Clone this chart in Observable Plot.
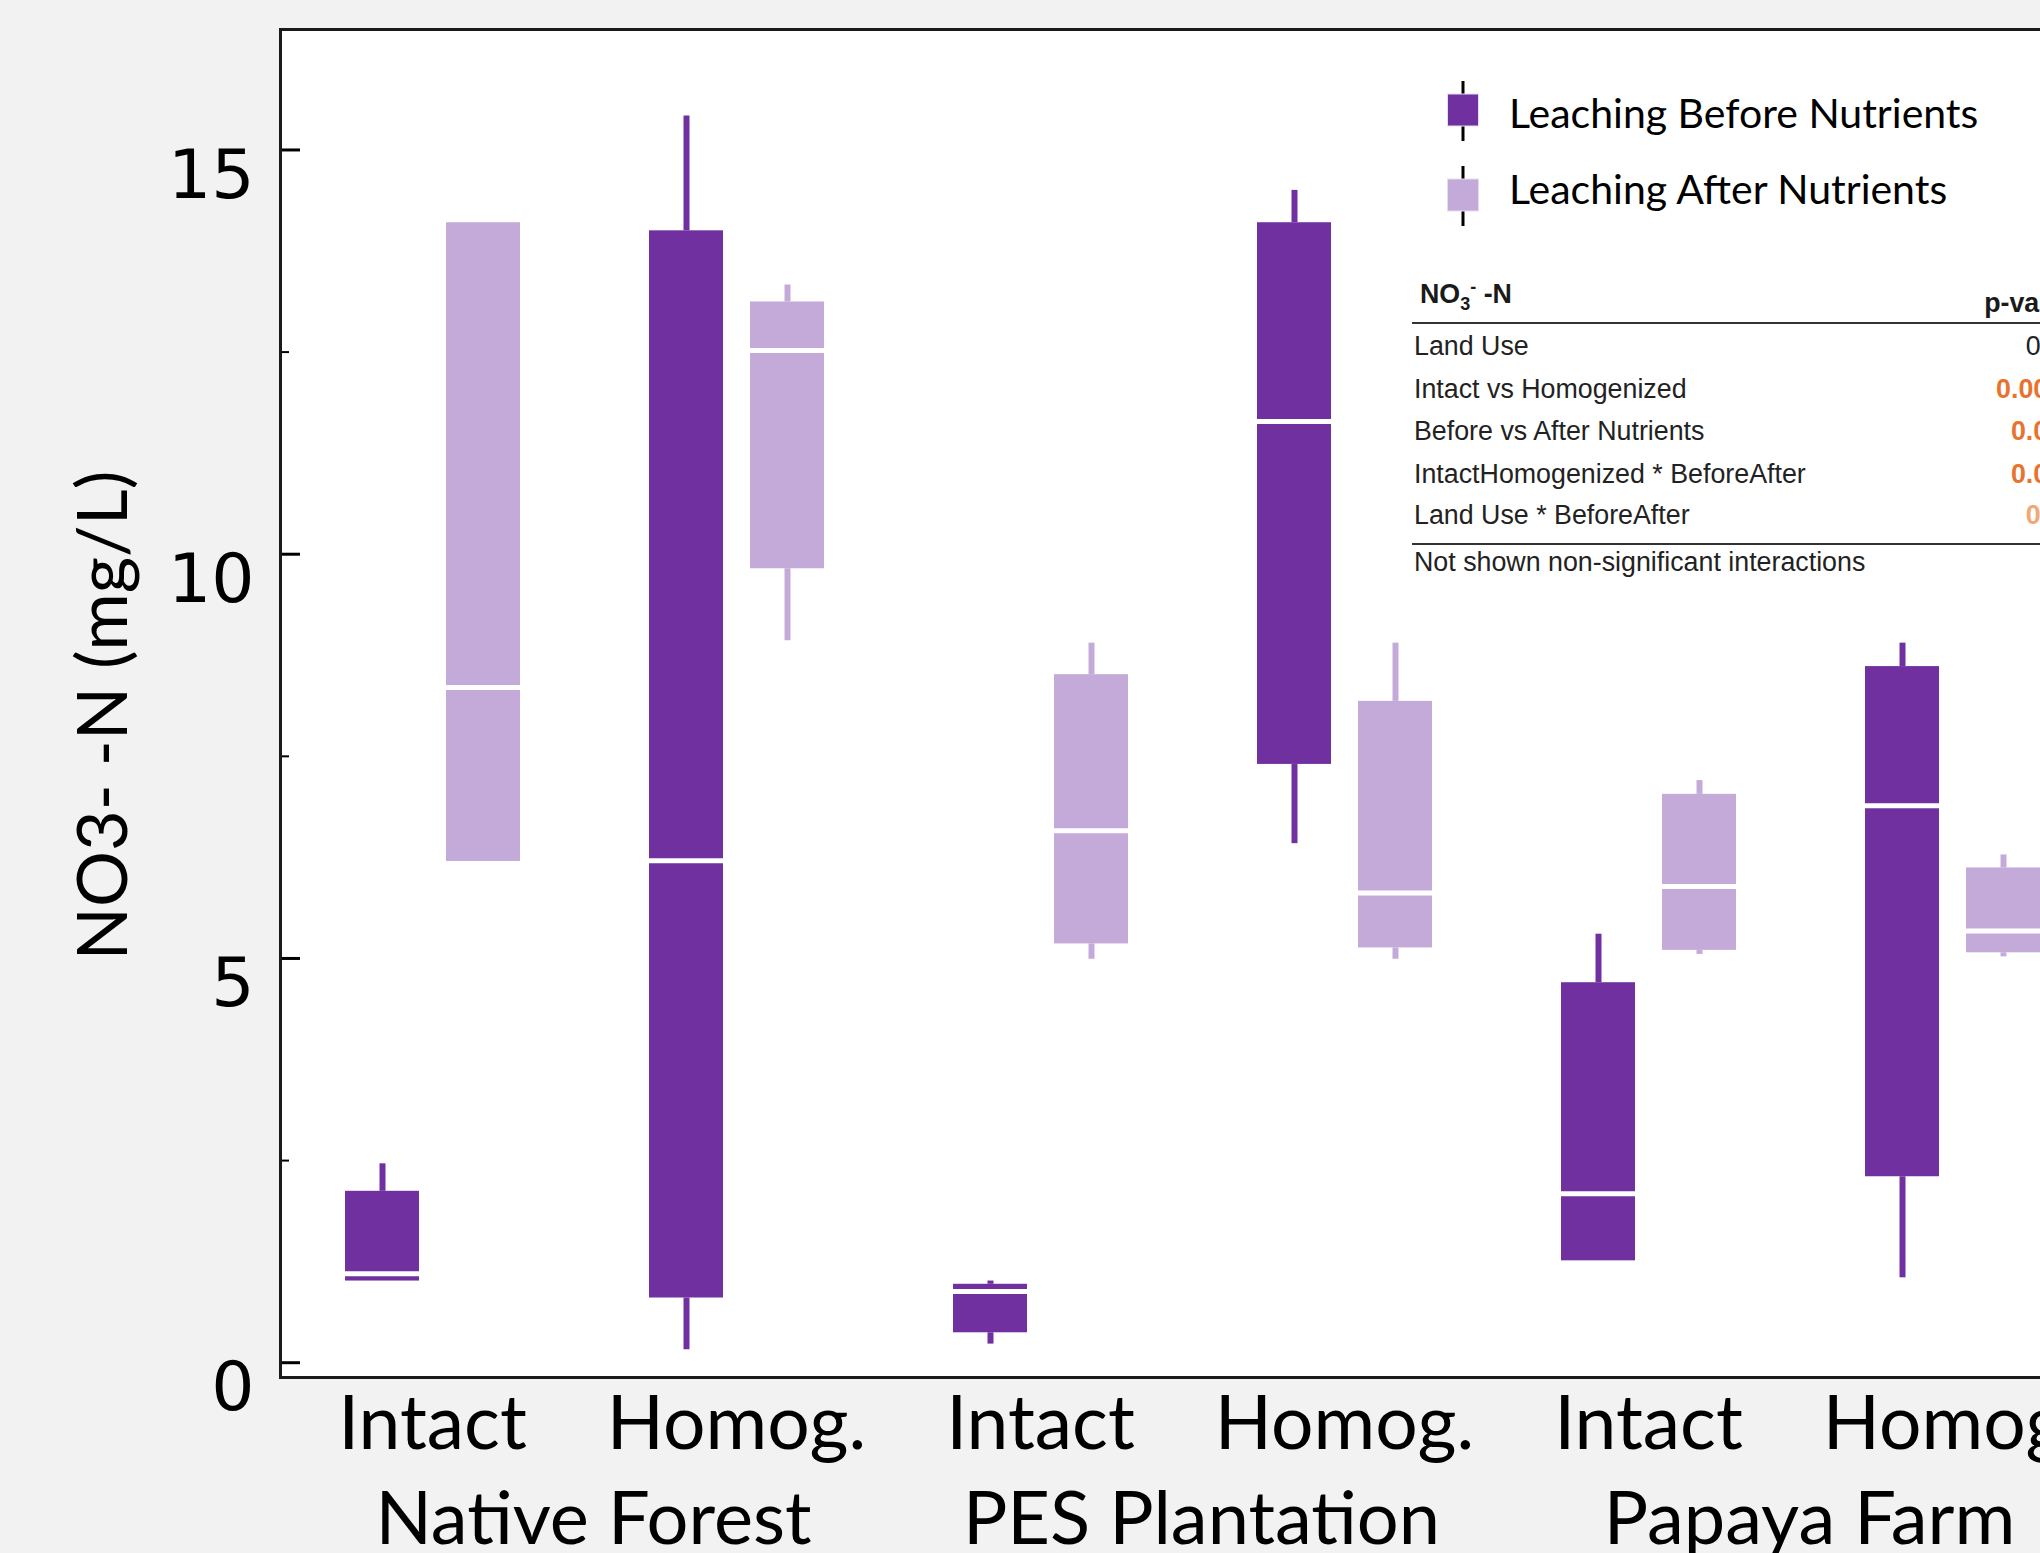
<!DOCTYPE html>
<html>
<head>
<meta charset="utf-8">
<script src="https://cdn.jsdelivr.net/npm/d3@7"></script>
<script src="https://cdn.jsdelivr.net/npm/@observablehq/plot@0.6"></script>
<style>
  html, body { margin: 0; padding: 0; overflow: hidden; background: #f2f2f2; width: 2040px; height: 1553px; }
  #wrap { position: relative; width: 2040px; height: 1553px; overflow: hidden; }
  #chart { position: absolute; left: 0; top: 0; width: 2140px; }
  #chart svg { max-width: none !important; }
  .leg-item { position: absolute; font-family: Lato, sans-serif; font-size: 41px; line-height: 50px; color: #000; white-space: nowrap; }
  .leg-icon { position: absolute; }
  #table { position: absolute; left: 1412px; top: 270px; width: 700px; height: 310px; background: #fff; font-family: "Liberation Sans", Arial, sans-serif; font-size: 26.8px; color: #222; }
  #table .ln { position: absolute; left: 2px; width: 660px; height: 30px; line-height: 30px; white-space: nowrap; }
  #table .val { position: absolute; left: 0; width: 662px; text-align: right; height: 30px; line-height: 30px; font-weight: bold; }
  #table .rule { position: absolute; left: 0; width: 700px; height: 2px; background: #333; }
</style>
</head>
<body>
<div id="wrap">
  <div id="chart"></div>
  <div id="legend"></div>
  <div id="table"></div>
</div>
<script>
// ---------- data ----------
const landUses = ["Native Forest", "PES Plantation", "Papaya Farm"];
const soilTypes = ["Intact", "Homog."];
const phases = ["Before", "After"];
const phaseLabels = ["Leaching Before Nutrients", "Leaching After Nutrients"];
const colors = ["#7030A0", "#C4AAD8"];

// order: NF Intact (B, A), NF Homog (B, A), PES Intact (B, A), PES Homog (B, A), Papaya Intact (B, A), Papaya Homog (B, A)
const whiskerLow  = [null, null, 0.16, 8.93, 0.23, 4.99, 6.42, 4.99, null, 5.05, 1.05, 5.02];
const q1          = [1.01, 6.20, 0.80, 9.82, 0.37, 5.18, 7.40, 5.13, 1.26, 5.10, 2.30, 5.07];
const median      = [1.10, 8.35, 6.21, 12.52, 0.88, 6.58, 11.64, 5.81, 2.09, 5.89, 6.89, 5.34];
const q3          = [2.12, 14.10, 14.00, 13.12, 0.97, 8.51, 14.10, 8.18, 4.70, 7.03, 8.61, 6.12];
const whiskerHigh = [2.46, null, 15.42, 13.33, 1.01, 8.90, 14.50, 8.90, 5.30, 7.20, 8.90, 6.28];

const yMajorTicks = [0, 5, 10, 15];
const yMinorTicks = [2.5, 7.5, 12.5];
const yLabel = "NO3- -N (mg/L)";

const tableTitle = ["NO", "3", "-", " -N"];
const tableHeader = "p-value";
const tableTerms = ["Land Use", "Intact vs Homogenized", "Before vs After Nutrients", "IntactHomogenized * BeforeAfter", "Land Use * BeforeAfter"];
const tablePValues = ["0.12", "0.0001", "0.001", "0.001", "0.03"];
const tablePColors = ["#222222", "#E8732F", "#E8732F", "#E8732F", "#F2A779"];
const tableNote = "Not shown non-significant interactions";

// ---------- build rows ----------
const rows = [];
let k = 0;
for (const lu of landUses) for (const st of soilTypes) for (const ph of phases) {
  rows.push({group: lu + "|" + st, landUse: lu, soil: st, phase: ph,
             lo: whiskerLow[k], q1: q1[k], med: median[k], q3: q3[k], hi: whiskerHigh[k]});
  k++;
}
const fxDomain = landUses.flatMap(lu => soilTypes.map(st => lu + "|" + st));
const groupRows = landUses.map(lu => ({key: lu + "|" + soilTypes[0], name: lu}));

const plot = Plot.plot({
  width: 2140,
  height: 1553,
  marginLeft: 280,
  marginRight: 36,
  marginTop: 29,
  marginBottom: 176,
  style: {background: "transparent", fontFamily: "Lato, sans-serif", color: "#000", overflow: "visible", maxWidth: "none"},
  fx: {domain: fxDomain, paddingInner: 0, paddingOuter: 0, label: null},
  x: {domain: phases, paddingInner: 0.271, paddingOuter: 0.631, axis: null},
  y: {domain: [-0.183, 16.49], label: null},
  color: {domain: phases, range: colors},
  marks: [
    Plot.frame({facet: "super", fill: "white", stroke: null}),
    Plot.ruleX(rows.filter(d => d.hi != null), {fx: "group", x: "phase", y1: "q3", y2: "hi", stroke: "phase", strokeWidth: 6}),
    Plot.ruleX(rows.filter(d => d.lo != null), {fx: "group", x: "phase", y1: "lo", y2: "q1", stroke: "phase", strokeWidth: 6}),
    Plot.barY(rows, {fx: "group", x: "phase", y1: "q1", y2: "q3", fill: "phase"}),
    Plot.tickY(rows, {fx: "group", x: "phase", y: "med", stroke: "white", strokeWidth: 5}),
    Plot.axisY({ticks: yMajorTicks, tickSize: -20, strokeWidth: 3, fill: "none", label: null}),
    Plot.axisY({ticks: yMinorTicks, tickSize: -9, strokeWidth: 2, fill: "none", label: null}),
    Plot.axisY({ticks: yMajorTicks, tickSize: 0, tickPadding: 26, dy: 26, fontSize: 68, fontFamily: "DejaVu Sans", label: null}),
    Plot.axisFx({anchor: "bottom", tickFormat: d => d.split("|")[1], tickSize: 0, tickPadding: 18, fontSize: 75, label: null}),
    Plot.text(groupRows, {fx: "key", text: "name", frameAnchor: "bottom-right", textAnchor: "middle", lineAnchor: "middle", dx: 9, dy: 143, fontSize: 74}),
    Plot.text([yLabel], {facet: "super", frameAnchor: "left", rotate: -90, dx: -176, dy: 12, fontSize: 70, textAnchor: "middle", lineAnchor: "middle"}),
    Plot.frame({facet: "super", stroke: "#1a1a1a", strokeWidth: 3})
  ]
});
plot.style.maxWidth = "none";
document.getElementById("chart").appendChild(plot);

// ---------- legend ----------
const legend = document.getElementById("legend");
phaseLabels.forEach((lab, i) => {
  const top = 81 + i * 85;
  const icon = document.createElementNS("http://www.w3.org/2000/svg", "svg");
  icon.setAttribute("class", "leg-icon");
  icon.setAttribute("width", 34);
  icon.setAttribute("height", 60);
  icon.style.left = "1446px";
  icon.style.top = top + "px";
  icon.innerHTML = `<line x1="17" x2="17" y1="0" y2="60" stroke="#000" stroke-width="3"/>
    <rect x="1.5" y="13" width="31" height="32" fill="${colors[i]}" stroke="#e6dcef" stroke-width="1"/>`;
  legend.appendChild(icon);
  const t = document.createElement("div");
  t.className = "leg-item";
  t.style.left = "1509px";
  t.style.top = (88 + i * 76) + "px";
  t.textContent = lab;
  legend.appendChild(t);
});

// ---------- table ----------
const tbl = document.getElementById("table");
const origin = 270;
function addLine(html, center, cls, extraStyle) {
  const d = document.createElement("div");
  d.className = cls;
  d.style.top = (center - origin - 15) + "px";
  if (extraStyle) Object.assign(d.style, extraStyle);
  d.innerHTML = html;
  tbl.appendChild(d);
  return d;
}
addLine(`<b>${tableTitle[0]}<span style="font-size:18px;position:relative;top:7px">${tableTitle[1]}</span><span style="font-size:18px;position:relative;top:-10px">${tableTitle[2]}</span>${tableTitle[3]}</b>`, 294, "ln", {left: "8px", color: "#1a1a1a"});
addLine(tableHeader, 303, "val", {color: "#1a1a1a", width: "666px"});
const r1 = document.createElement("div"); r1.className = "rule"; r1.style.top = (322 - origin) + "px"; tbl.appendChild(r1);
const rowCenters = [346, 389, 431, 474, 515];
tableTerms.forEach((t, i) => {
  addLine(t, rowCenters[i], "ln");
  addLine(tablePValues[i], rowCenters[i], "val", {color: tablePColors[i], fontWeight: i === 0 ? "normal" : "bold", width: "666px"});
});
const r2 = document.createElement("div"); r2.className = "rule"; r2.style.top = (543 - origin) + "px"; tbl.appendChild(r2);
addLine(tableNote, 562, "ln");
</script>
</body>
</html>
